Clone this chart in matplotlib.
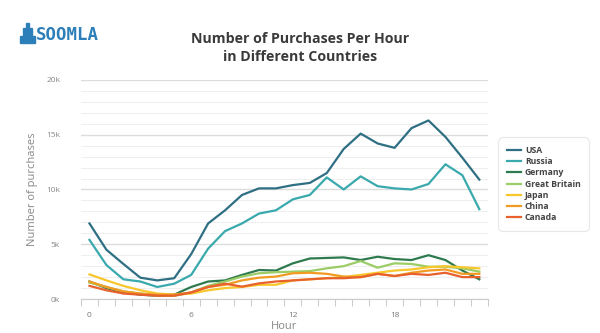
import numpy as np
import matplotlib.pyplot as plt
from matplotlib.patches import Rectangle

hours = list(range(24))

# purchases per hour, in thousands
usa = [6.9, 4.5, 3.2, 1.95, 1.7, 1.9, 4.1, 6.9, 8.1, 9.5, 10.1, 10.1, 10.4, 10.6, 11.5, 13.7,
       15.1, 14.2, 13.8, 15.6, 16.3, 14.8, 12.9, 10.9]
russia = [5.4, 3.1, 1.8, 1.6, 1.1, 1.4, 2.2, 4.6, 6.2, 6.9, 7.8, 8.1, 9.1, 9.5, 11.1, 10.0,
          11.2, 10.3, 10.1, 10.0, 10.5, 12.3, 11.3, 8.2]
germany = [1.6, 1.0, 0.6, 0.4, 0.3, 0.4, 1.1, 1.6, 1.7, 2.2, 2.65, 2.6, 3.26, 3.7, 3.75, 3.8,
           3.56, 3.86, 3.65, 3.56, 4.0, 3.56, 2.6, 1.8]
britain = [1.5, 1.1, 0.7, 0.5, 0.3, 0.3, 0.6, 1.2, 1.6, 2.05, 2.35, 2.45, 2.5, 2.55, 2.8, 3.0,
           3.47, 2.86, 3.26, 3.2, 2.95, 2.95, 2.8, 2.5]
japan = [2.25, 1.7, 1.2, 0.8, 0.5, 0.4, 0.5, 0.8, 1.0, 1.1, 1.3, 1.3, 1.7, 1.8, 1.9, 2.0,
         2.2, 2.4, 2.6, 2.7, 2.9, 3.0, 2.9, 2.8]
china = [1.6, 1.1, 0.7, 0.5, 0.4, 0.4, 0.6, 1.1, 1.3, 1.7, 1.95, 2.05, 2.35, 2.4, 2.3, 2.05,
         2.0, 2.3, 2.1, 2.4, 2.6, 2.7, 2.3, 2.3]
canada = [1.2, 0.8, 0.5, 0.4, 0.3, 0.3, 0.6, 1.1, 1.4, 1.13, 1.43, 1.6, 1.7, 1.8, 1.9, 1.9,
          2.0, 2.3, 2.1, 2.3, 2.2, 2.4, 2.0, 2.0]

countries = ['USA', 'Russia', 'Germany', 'Great Britain', 'Japan', 'China', 'Canada']
series = [usa, russia, germany, britain, japan, china, canada]
colors = ['#2f6f84', '#3aa9ad', '#2e7a4f', '#9ccc65', '#f7c72b', '#f29b22', '#e8602c']

plt.rcParams['font.family'] = ['Open Sans', 'DejaVu Sans']

fig = plt.figure(figsize=(6, 3.33), dpi=100)
ax = fig.add_axes([0.135, 0.102, 0.678, 0.658])

for name, vals, c in zip(countries, series, colors):
    ax.plot(hours, np.array(vals) * 1000, color=c, lw=1.6, label=name)

ax.set_xlim(-0.5, 23.5)
ax.set_ylim(0, 20000)
ax.set_yticks([0, 5000, 10000, 15000, 20000])
ax.set_yticklabels(['0k', '5k', '10k', '15k', '20k'])
ax.set_yticks(np.arange(0, 20001, 1000), minor=True)
ax.grid(axis='y', which='major', color='#dcdcdc', lw=1.0)
ax.grid(axis='y', which='minor', color='#efefef', lw=0.8)
ax.set_axisbelow(True)

# category ticks between the hours, labels every 6 hours
ax.set_xticks(np.arange(-0.5, 24, 1))
ax.set_xticklabels([])
ax.tick_params(axis='x', which='major', length=5, color='#cccccc', width=0.8)
ax.set_xticks([0, 6, 12, 18], minor=True)
ax.set_xticklabels(['0', '6', '12', '18'], minor=True)
ax.tick_params(axis='x', which='minor', length=0, pad=9, labelsize=6, labelcolor='#777777')
ax.tick_params(axis='y', which='both', length=0, pad=15, labelsize=6, labelcolor='#888888')

for s in ['top', 'right', 'left']:
    ax.spines[s].set_visible(False)
ax.spines['bottom'].set_color('#cccccc')
ax.spines['bottom'].set_linewidth(0.8)

ax.set_xlabel('Hour', fontsize=8, color='#888888', labelpad=2)
ax.set_ylabel('Number of purchases', fontsize=8, color='#888888', labelpad=6)

fig.text(0.5, 0.855, 'Number of Purchases Per Hour\nin Different Countries', ha='center', va='center',
         fontsize=10.2, fontweight='bold', color='#3a3a3a', linespacing=1.35)

# logo
fig.text(0.06, 0.895, 'SOOMLA', fontsize=12.5, fontweight='bold', color='#2c7fb8',
         ha='left', va='center', family='DejaVu Sans Mono')
fig.patches.append(Rectangle((0.034, 0.872), 0.024, 0.02, transform=fig.transFigure,
                             color='#2c7fb8'))
fig.patches.append(Rectangle((0.038, 0.894), 0.016, 0.022, transform=fig.transFigure,
                             color='#2c7fb8'))
fig.patches.append(Rectangle((0.043, 0.918), 0.006, 0.014, transform=fig.transFigure,
                             color='#2c7fb8'))

leg = fig.legend(loc='upper left', bbox_to_anchor=(0.826, 0.595), frameon=True,
                 handlelength=1.6, handletextpad=0.5, labelspacing=0.25, borderpad=0.8,
                 prop={'weight': 'bold', 'size': 6.2})
leg.get_frame().set_edgecolor('#e2e2e2')
leg.get_frame().set_linewidth(0.8)
leg.get_frame().set_boxstyle('round,pad=0.2,rounding_size=0.6')
for t in leg.get_texts():
    t.set_color('#444444')

fig.savefig('out.png', dpi=100)
